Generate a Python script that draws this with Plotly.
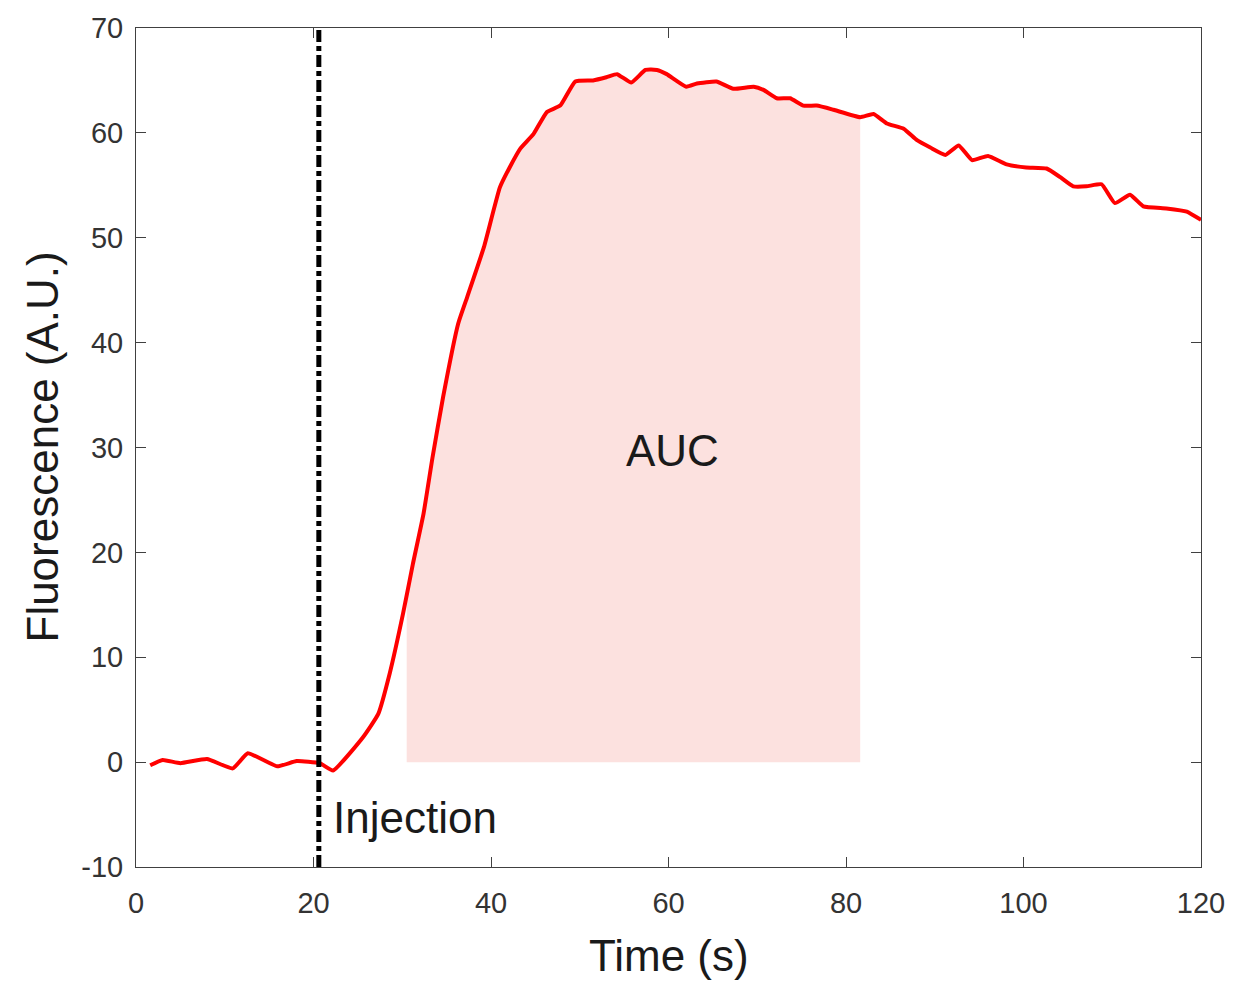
import numpy as np
import plotly.graph_objects as go

# ---- data ----
time_s = [1.6, 3.0, 5.0, 8.0, 10.9, 12.6, 15.9, 18.1, 20.7, 22.2, 25.6, 27.3, 28.6,
          30.1, 31.2, 32.4, 33.4, 34.6, 36.3, 37.3, 39.2, 41.0, 42.1, 43.3, 44.8,
          46.3, 47.8, 49.5, 51.5, 53.0, 54.2, 55.8, 57.4, 58.7, 59.8, 62.0, 63.2,
          65.4, 67.3, 69.6, 70.7, 72.2, 73.7, 75.2, 76.7, 78.6, 81.6, 83.1, 84.6,
          86.5, 88.0, 89.5, 91.2, 92.7, 94.2, 96.0, 98.1, 100.3, 102.6, 104.1,
          105.6, 107.1, 108.8, 110.3, 112.0, 113.5, 116.1, 118.4, 120.0]
fluorescence = [-0.3, 0.2, -0.1, 0.3, -0.6, 0.85, -0.4, 0.1, -0.1, -0.8, 2.4, 4.6, 8.5,
                14.2, 18.9, 23.7, 29.0, 34.8, 41.8, 44.3, 49.1, 54.8, 56.7, 58.5, 59.9,
                62.0, 62.6, 64.9, 65.0, 65.3, 65.6, 64.8, 66.0, 66.0, 65.6, 64.4, 64.7,
                64.9, 64.2, 64.4, 64.1, 63.3, 63.3, 62.6, 62.6, 62.2, 61.5, 61.8, 60.9,
                60.4, 59.3, 58.6, 57.9, 58.8, 57.4, 57.8, 57.0, 56.7, 56.6, 55.8,
                54.9, 54.9, 55.1, 53.3, 54.1, 53.0, 52.8, 52.5, 51.7]

injection_time = 20.6
auc_start = 30.5
auc_end = 81.6

x_ticks = [0, 20, 40, 60, 80, 100, 120]
y_ticks = [-10, 0, 10, 20, 30, 40, 50, 60, 70]
x_tick_labels = [str(v) for v in x_ticks]
y_tick_labels = [str(v) for v in y_ticks]

x_title = "Time (s)"
y_title = "Fluorescence (A.U.)"

# ---- AUC shading built from the series ----
t = np.array(time_s)
f = np.array(fluorescence)
inner = (t > auc_start) & (t < auc_end)
auc_x = np.concatenate([[auc_start], t[inner], [auc_end]])
auc_y = np.concatenate([[np.interp(auc_start, t, f)], f[inner], [np.interp(auc_end, t, f)]])

FONT = "Liberation Sans, Arial, Helvetica, sans-serif"
TXT = "#1a1a1a"
fig = go.Figure()

fig.add_trace(go.Scatter(x=auc_x, y=auc_y, mode="lines", line=dict(width=0),
                         fill="tozeroy", fillcolor="rgb(252,225,223)",
                         hoverinfo="skip", showlegend=False))

fig.add_vline(x=injection_time, line=dict(color="black", width=5, dash="12px,4px,5px,4px"))

fig.add_trace(go.Scatter(x=time_s, y=fluorescence, mode="lines",
                         line=dict(color="#FF0000", width=4, shape="spline", smoothing=0.4),
                         showlegend=False))

fig.add_annotation(x=60.4, y=29.7, text="AUC", showarrow=False,
                   font=dict(family=FONT, size=44, color=TXT))
fig.add_annotation(x=22.0, y=-5.3, text="Injection", showarrow=False, xanchor="left",
                   font=dict(family=FONT, size=44, color=TXT))

# axis titles placed precisely relative to the plot area
fig.add_annotation(xref="paper", yref="paper", x=0.5, y=0, yanchor="middle", yshift=-88,
                   text=x_title, showarrow=False, font=dict(family=FONT, size=44, color=TXT))
fig.add_annotation(xref="paper", yref="paper", x=0, y=0.5, xanchor="center", xshift=-94,
                   textangle=-90, text=y_title, showarrow=False,
                   font=dict(family=FONT, size=44, color=TXT))

axis_common = dict(showline=True, linecolor="#404040", linewidth=1, mirror="allticks",
                   ticks="inside", ticklen=10, tickcolor="#404040", showgrid=False,
                   zeroline=False, automargin=False,
                   tickfont=dict(family=FONT, size=29, color="#333333"))

fig.update_xaxes(range=[0, 120], tickvals=x_ticks, ticktext=x_tick_labels,
                 ticklabelstandoff=10, **axis_common)
fig.update_yaxes(range=[-10, 70], tickvals=y_ticks, ticktext=y_tick_labels,
                 ticklabelstandoff=6, **axis_common)

fig.update_layout(width=1233, height=981, plot_bgcolor="white", paper_bgcolor="white",
                  margin=dict(l=136, r=32, t=28, b=114), showlegend=False)

fig.write_html("out.html", config={"displayModeBar": False})

# remove the browser's default body margin so the figure sits at the page origin
with open("out.html", "r", encoding="utf-8") as fh:
    html = fh.read()
html = html.replace("<head>", "<head><style>html,body{margin:0;padding:0;overflow:hidden;}</style>", 1)
with open("out.html", "w", encoding="utf-8") as fh:
    fh.write(html)
